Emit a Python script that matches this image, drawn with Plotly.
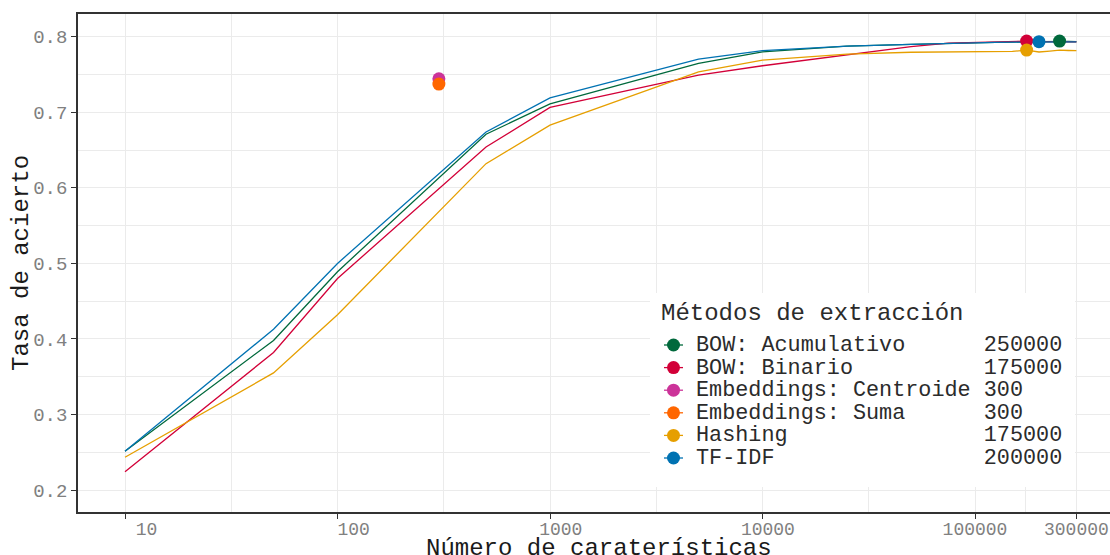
import math
import plotly.graph_objects as go

# Number of features evaluated for the curve-based methods
n_features = [10, 50, 100, 500, 1000, 5000, 10000, 25000, 50000, 75000,
              100000, 125000, 150000, 175000, 200000, 225000, 250000, 275000, 300000]

# Accuracy per method
acc_bow_acum = [0.2513, 0.398, 0.489, 0.671, 0.711, 0.7647, 0.780, 0.7875, 0.790, 0.7915,
                0.792, 0.7925, 0.793, 0.7932, 0.7935, 0.7938, 0.7943, 0.7938, 0.7935]
acc_bow_bin = [0.2243, 0.382, 0.480, 0.654, 0.7065, 0.7493, 0.7616, 0.776, 0.787, 0.7915,
               0.7925, 0.7928, 0.7932, 0.7943, 0.7935, 0.7935, 0.7932, 0.7935, 0.7932]
acc_hashing = [0.2433, 0.355, 0.432, 0.632, 0.683, 0.7536, 0.769, 0.777, 0.7795, 0.780,
               0.780, 0.7802, 0.7805, 0.7824, 0.7798, 0.781, 0.7822, 0.7818, 0.7815]
acc_tfidf = [0.2513, 0.4128, 0.4999, 0.674, 0.719, 0.7705, 0.7815, 0.7875, 0.790, 0.7915,
             0.792, 0.7925, 0.7928, 0.793, 0.7935, 0.7932, 0.7932, 0.7933, 0.7933]

# Embedding methods: a single configuration each
acc_emb_centroide = 0.7444
acc_emb_suma = 0.7374

# Legend entries (method, best number of features)
methods = ["BOW: Acumulativo", "BOW: Binario", "Embeddings: Centroide",
           "Embeddings: Suma", "Hashing", "TF-IDF"]
best_n = [250000, 175000, 300, 300, 175000, 200000]
colors = ["#00693C", "#D20038", "#CC3399", "#FF6600", "#E69F00", "#0072B2"]

curves = {
    "BOW: Acumulativo": acc_bow_acum,
    "BOW: Binario": acc_bow_bin,
    "Hashing": acc_hashing,
    "TF-IDF": acc_tfidf,
}
single = {
    "Embeddings: Centroide": acc_emb_centroide,
    "Embeddings: Suma": acc_emb_suma,
}

x_major = [10, 100, 1000, 10000, 100000, 300000]
x_major_text = [str(v).rjust(6).replace(" ", "\u00a0") for v in x_major]
x_minor = [math.sqrt(a * b) for a, b in zip(x_major[:-1], x_major[1:])]
y_major = [0.2, 0.3, 0.4, 0.5, 0.6, 0.7, 0.8]
y_minor = [0.25, 0.35, 0.45, 0.55, 0.65, 0.75]

FONT = "Liberation Mono"
TEXT_COLOR = "#2b2b2b"
W, H = 1110, 555
ml, mr, mt, mb = 78, 0, 14, 43
PW, PH = W - ml - mr, H - mt - mb


def px_x(px):
    return (px - ml) / PW


def px_y(py):
    return (H - mb - py) / PH


fig = go.Figure()

# Curves
for name, color in zip(methods, colors):
    if name in curves:
        fig.add_trace(go.Scatter(
            x=n_features, y=curves[name], mode="lines", name=name,
            line=dict(color=color, width=1.3), hoverinfo="skip"))

# Best configuration of each method
for name, n, color in zip(methods, best_n, colors):
    yv = curves[name][n_features.index(n)] if name in curves else single[name]
    fig.add_trace(go.Scatter(
        x=[n], y=[yv], mode="markers", name=name,
        marker=dict(color=color, size=13)))

# Legend panel: keys (line + point) and labels with the best feature count
shapes = [dict(type="rect", xref="paper", yref="paper", layer="above",
               x0=px_x(650), x1=px_x(1075), y0=px_y(487), y1=px_y(293),
               fillcolor="white", line=dict(width=0))]
annotations = [dict(text="Métodos de extracción", xref="paper", yref="paper",
                    x=px_x(659), y=px_y(314), xanchor="left", yanchor="middle",
                    showarrow=False, font=dict(family=FONT, size=24, color=TEXT_COLOR))]
row_y0, row_step = 345.0, 22.6
for i, (name, n, color) in enumerate(zip(methods, best_n, colors)):
    cy = row_y0 + i * row_step
    shapes.append(dict(type="line", xref="paper", yref="paper", layer="above",
                       x0=px_x(664), x1=px_x(683), y0=px_y(cy), y1=px_y(cy),
                       line=dict(color=color, width=1.3)))
    shapes.append(dict(type="circle", xref="paper", yref="paper", layer="above",
                       xsizemode="pixel", ysizemode="pixel",
                       xanchor=px_x(673.5), yanchor=px_y(cy),
                       x0=-6.5, x1=6.5, y0=-6.5, y1=6.5,
                       fillcolor=color, line=dict(width=0)))
    label = (name.ljust(22) + str(n)).replace(" ", "\u00a0")
    annotations.append(dict(text=label, xref="paper", yref="paper", height=22,
                            x=px_x(694), y=px_y(cy), xanchor="left", yanchor="middle",
                            showarrow=False, font=dict(family=FONT, size=21.8, color=TEXT_COLOR)))

# Axis titles
annotations += [
    dict(text="Número de caraterísticas", xref="paper", yref="paper",
         x=px_x(599), y=px_y(548), xanchor="center", yanchor="middle", showarrow=False,
         font=dict(family=FONT, size=24, color="#1a1a1a")),
    dict(text="Tasa de acierto", xref="paper", yref="paper", textangle=-90,
         x=px_x(21), y=0.5, xanchor="center", yanchor="middle", showarrow=False,
         font=dict(family=FONT, size=24, color="#1a1a1a")),
]

fig.update_layout(
    width=W, height=H, autosize=False, showlegend=False,
    margin=dict(l=ml, r=mr, t=mt, b=mb),
    plot_bgcolor="white", paper_bgcolor="white",
    font=dict(family=FONT, color="#333333"),
    xaxis=dict(
        type="log", range=[0.7788, 5.6353],
        tickmode="array", tickvals=x_major, ticktext=x_major_text,
        tickfont=dict(family=FONT, size=18, color="#808080"),
        ticks="outside", ticklen=5, tickwidth=1.3, tickcolor="#333333",
        ticklabelstandoff=-5, ticklabeloverflow="allow",
        showgrid=True, gridcolor="#EBEBEB", gridwidth=1.4,
        minor=dict(tickvals=x_minor, showgrid=True, gridcolor="#EBEBEB", gridwidth=0.7, ticks=""),
        showline=True, linecolor="#333333", linewidth=1.5, mirror=True, zeroline=False,
    ),
    yaxis=dict(
        range=[0.1709, 0.8301],
        tickmode="array", tickvals=y_major, ticktext=[f"{v:.1f}" for v in y_major],
        tickfont=dict(family=FONT, size=19, color="#808080"),
        ticks="outside", ticklen=5, tickwidth=1.3, tickcolor="#333333",
        showgrid=True, gridcolor="#EBEBEB", gridwidth=1.4,
        minor=dict(tickvals=y_minor, showgrid=True, gridcolor="#EBEBEB", gridwidth=0.7, ticks=""),
        showline=True, linecolor="#333333", linewidth=1.5, zeroline=False,
    ),
    shapes=shapes,
    annotations=annotations,
)

fig.write_html("out.html")
